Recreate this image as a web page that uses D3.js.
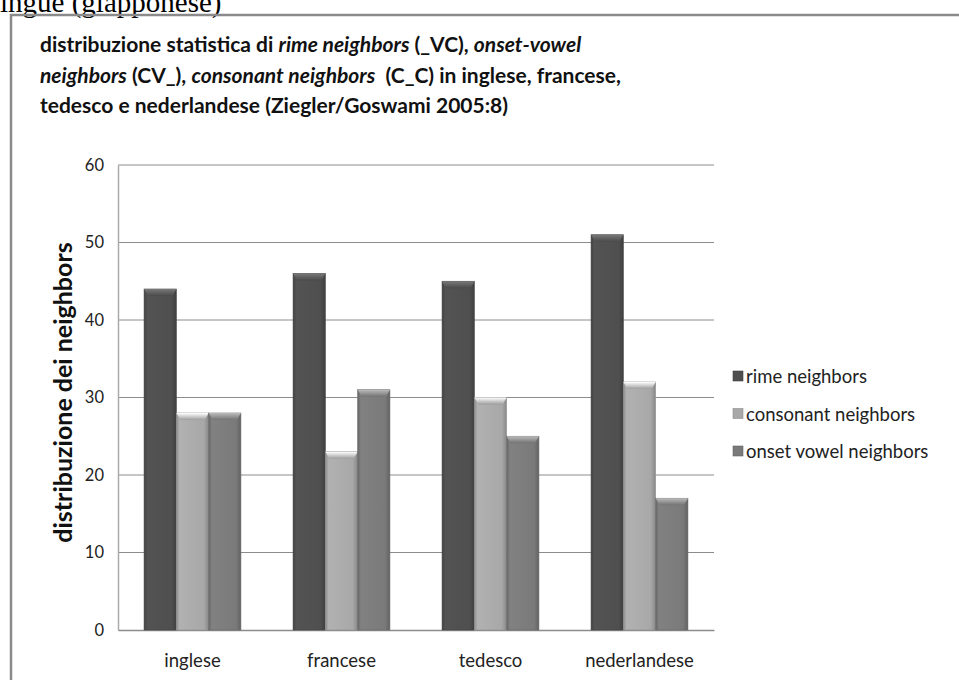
<!DOCTYPE html>
<html>
<head>
<meta charset="utf-8">
<script src="https://cdn.jsdelivr.net/npm/d3@7"></script>
<style>
  body { margin: 0; background: #fff; }
  svg { display: block; }
</style>
</head>
<body>
<svg id="chart" width="959" height="680"></svg>
<script>
const languages = ['inglese', 'francese', 'tedesco', 'nederlandese'];
const seriesNames = ['rime neighbors', 'consonant neighbors', 'onset vowel neighbors'];
const rime = [44, 46, 45, 51];
const consonant = [28, 23, 30, 32];
const onsetVowel = [28, 31, 25, 17];
const yTicks = [0, 10, 20, 30, 40, 50, 60];

const seriesValues = [rime, consonant, onsetVowel];
const colors = ['#4f4f4f', '#a8a8a8', '#7a7a7a'];

const svg = d3.select('#chart');
const font = 'Lato, "Open Sans", sans-serif';

// text of the page above the chart, cut at the top
svg.append('text')
    .attr('x', 0).attr('y', 12)
    .style('font-family', '"Liberation Serif", serif')
    .style('font-size', '29px')
    .text('ingue (giapponese)');

// chart frame
svg.append('rect')
    .attr('x', 11).attr('y', 15)
    .attr('width', 970).attr('height', 700)
    .attr('fill', 'none')
    .attr('stroke', '#8a8a8a')
    .attr('stroke-width', 2.5);

// title
const title = svg.append('text')
    .style('font-family', font)
    .style('font-size', '21px')
    .style('font-weight', 'bold')
    .style('white-space', 'pre')
    .attr('fill', '#111');
const titleLines = [
    [['distribuzione statistica di ', false], ['rime neighbors', true], [' (_VC), ', false], ['onset-vowel', true]],
    [['neighbors', true], [' (CV_), ', false], ['consonant neighbors', true], ['  (C_C) in inglese, francese,', false]],
    [['tedesco e nederlandese (Ziegler/Goswami 2005:8)', false]]
];
titleLines.forEach((line, i) => {
    line.forEach(([t, it], j) => {
        const ts = title.append('tspan').text(t)
            .style('font-style', it ? 'italic' : 'normal');
        if (j === 0) ts.attr('x', 40).attr('y', 52 + i * 30.5);
    });
});

const plot = { left: 118, right: 714, top: 165, bottom: 630 };

const x = d3.scaleBand()
    .domain(languages)
    .range([plot.left, plot.right])
    .paddingInner(0.35)
    .paddingOuter(0.175);

const xInner = d3.scaleBand()
    .domain(seriesNames)
    .range([0, x.bandwidth()]);

const y = d3.scaleLinear()
    .domain([0, 60])
    .range([plot.bottom, plot.top]);

// gridlines
svg.append('g')
    .selectAll('line')
    .data(yTicks.filter(d => d > 0))
    .join('line')
    .attr('x1', plot.left).attr('x2', plot.right)
    .attr('y1', d => y(d)).attr('y2', d => y(d))
    .attr('stroke', '#8c8c8c')
    .attr('stroke-width', 1);

// y axis
const yAxis = svg.append('g')
    .attr('transform', `translate(${plot.left},0)`)
    .call(d3.axisLeft(y).tickValues(yTicks).tickSize(0).tickPadding(14));
yAxis.select('.domain').attr('stroke', '#aaa').attr('stroke-width', 1.5);
yAxis.selectAll('text')
    .style('font-family', font)
    .style('font-size', '16.5px')
    .attr('fill', '#222');

// x axis
const xAxis = svg.append('g')
    .attr('transform', `translate(0,${plot.bottom})`)
    .call(d3.axisBottom(x).tickSize(0).tickPadding(24));
xAxis.select('.domain').attr('stroke', '#8c8c8c').attr('stroke-width', 1.5);
xAxis.selectAll('text')
    .style('font-family', font)
    .style('font-size', '18.5px')
    .attr('fill', '#222');

// y axis title
svg.append('text')
    .attr('transform', `translate(72,${(plot.top + plot.bottom) / 2 - 5}) rotate(-90)`)
    .attr('text-anchor', 'middle')
    .style('font-family', font)
    .style('font-size', '25px')
    .style('font-weight', 'bold')
    .attr('fill', '#111')
    .text('distribuzione dei neighbors');

// gradients for bevelled bars
const defs = svg.append('defs');
colors.forEach((c, i) => {
    const g = defs.append('linearGradient')
        .attr('id', 'grad' + i)
        .attr('x1', '0%').attr('x2', '100%').attr('y1', '0%').attr('y2', '0%');
    const base = d3.color(c);
    g.append('stop').attr('offset', '0%').attr('stop-color', base.darker(0.5));
    g.append('stop').attr('offset', '10%').attr('stop-color', base.brighter(0.15));
    g.append('stop').attr('offset', '85%').attr('stop-color', base);
    g.append('stop').attr('offset', '100%').attr('stop-color', base.darker(0.6));
    const cap = defs.append('linearGradient')
        .attr('id', 'cap' + i)
        .attr('x1', '0%').attr('x2', '0%').attr('y1', '0%').attr('y2', '100%');
    cap.append('stop').attr('offset', '0%').attr('stop-color', base.brighter(1.2));
    cap.append('stop').attr('offset', '100%').attr('stop-color', base.darker(0.2));
});

// bars
const groups = svg.append('g')
    .selectAll('g')
    .data(languages)
    .join('g')
    .attr('transform', d => `translate(${x(d)},0)`);

groups.each(function (lang, li) {
    const g = d3.select(this);
    seriesNames.forEach((s, si) => {
        const v = seriesValues[si][li];
        const bx = xInner(s);
        const bw = xInner.bandwidth();
        g.append('rect')
            .attr('x', bx).attr('y', y(v))
            .attr('width', bw).attr('height', y(0) - y(v))
            .attr('fill', `url(#grad${si})`)
            .attr('stroke', d3.color(colors[si]).darker(0.4))
            .attr('stroke-width', 0.6);
        // bevel cap
        g.append('path')
            .attr('d', `M${bx},${y(v)} L${bx + bw},${y(v)} L${bx + bw - 4},${y(v) + 7} L${bx + 4},${y(v) + 7} Z`)
            .attr('fill', `url(#cap${si})`);
    });
});

// legend
const legend = svg.append('g')
    .selectAll('g')
    .data(seriesNames)
    .join('g')
    .attr('transform', (d, i) => `translate(733,${377 + i * 37.5})`);
legend.append('rect')
    .attr('x', 0).attr('y', -6)
    .attr('width', 10).attr('height', 10)
    .attr('fill', (d, i) => colors[i])
    .attr('stroke', (d, i) => d3.color(colors[i]).darker(0.5))
    .attr('stroke-width', 0.6);
legend.append('text')
    .attr('x', 13).attr('y', 6)
    .style('font-family', font)
    .style('font-size', '18.5px')
    .attr('fill', '#222')
    .text(d => d);
</script>
</body>
</html>
